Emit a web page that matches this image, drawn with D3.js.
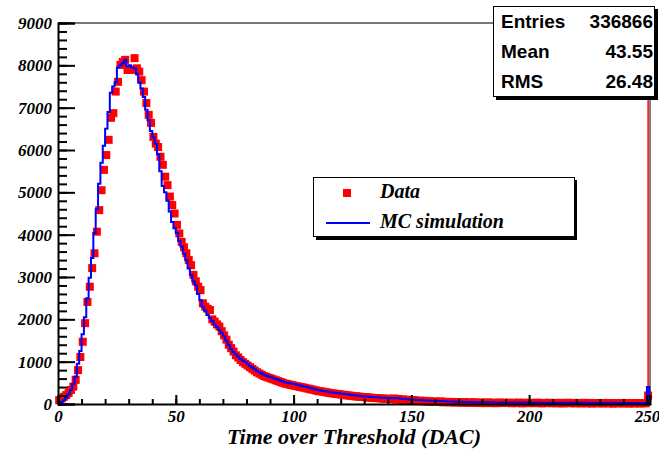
<!DOCTYPE html>
<html>
<head>
<meta charset="utf-8">
<script src="https://cdn.jsdelivr.net/npm/d3@7"></script>
<style>
  body { margin: 0; background: #fff; }
  .tick text { font-family: "Liberation Serif", "Times New Roman", serif; font-weight: bold; font-style: italic; font-size: 17px; fill: #000; }
</style>
</head>
<body>
<div id="chart"></div>
<script>
// histogram bins: 0..250 DAC, width 1
var binCount = 251;

// MC simulation counts per bin (blue step line)
var mcCounts = [
  20,50,90,150,230,330,470,650,950,1250,
  1650,2050,2500,2980,3450,4040,4600,5200,5700,6100,
  6500,6900,7350,7500,7600,7950,8000,8050,8130,7980,
  8000,7950,7930,7800,7600,7450,7250,6950,6700,6450,
  6300,6150,5900,5500,5150,5000,4800,4550,4300,4150,
  4040,3850,3720,3550,3400,3200,3050,2900,2800,2600,
  2450,2300,2200,2100,2030,1960,1880,1820,1750,1680,
  1600,1500,1400,1300,1230,1170,1120,1070,1020,990,
  950,900,860,820,780,750,720,690,670,650,
  630,610,590,570,550,530,515,500,490,480,
  470,455,440,425,415,405,390,375,360,345,
  330,320,310,300,290,280,270,265,258,252,
  245,238,230,222,215,208,200,195,190,183,
  177,170,167,163,160,157,153,150,147,144,
  141,138,136,135,133,125,120,115,110,106,
  102,98,95,92,88,85,82,80,77,75,
  72,70,68,66,64,62,60,58,56,54,
  52,51,49,48,47,45,44,43,42,42,
  41,40,40,39,39,38,38,37,37,36,
  36,36,35,35,35,34,34,34,33,33,
  33,33,32,32,32,32,31,31,31,31,
  31,30,30,30,30,30,30,29,29,29,
  29,29,29,28,28,28,28,28,28,28,
  27,27,27,27,27,27,27,27,27,26,
  26,26,26,26,26,26,26,26,26,26,
  400
];

// measured data counts per bin (red squares)
var dataCounts = [
  90,130,170,210,260,330,410,570,800,1110,
  1470,1910,2410,2770,3210,3560,4070,4580,5050,5530,
  5880,6240,6760,6870,7380,7610,8010,8080,8130,7890,
  7890,7900,8170,7930,7850,7650,7380,7110,6830,6640,
  6310,6150,6070,5840,5650,5370,5170,4900,4700,4500,
  4230,4030,3830,3700,3560,3400,3280,3050,2900,2770,
  2690,2380,2300,2250,2220,2000,1945,1880,1830,1720,
  1620,1520,1400,1320,1240,1150,1100,1040,990,950,
  910,870,830,790,750,720,690,660,640,620,
  600,580,560,540,520,500,480,470,455,445,
  430,420,405,395,385,370,360,345,335,320,
  305,300,290,280,270,260,250,245,235,230,
  220,215,205,200,195,185,180,175,170,165,
  160,155,150,145,140,140,135,130,125,120,
  125,115,130,105,120,98,110,92,100,85,
  95,88,70,80,62,75,58,66,50,60,
  55,48,62,40,52,45,38,50,35,44,
  40,30,45,28,38,25,42,30,22,35,
  30,20,38,25,32,18,28,35,22,30,
  25,32,18,28,20,34,22,15,30,24,
  28,18,25,32,20,15,26,22,30,18,
  24,16,28,20,12,25,30,18,22,15,
  26,20,14,28,18,22,10,25,20,16,
  22,12,26,18,20,8,24,16,20,14,
  18,22,10,20,15,24,12,18,20,16,
  200
];

// last (saturation) bin of the data runs far off scale
var spikeValue = 20000;

var statLabels = ["Entries", "Mean", "RMS"];
var statValues = ["336866", "43.55", "26.48"];

var legendLabels = ["Data", "MC simulation"];

var yMajorTicks = [0,1000,2000,3000,4000,5000,6000,7000,8000,9000];
var xMajorTicks = [0,50,100,150,200,250];

var Width = 659, Height = 450;
var Margin = {top: 23, right: 9, bottom: 46, left: 58};
var serif = '"Liberation Serif", "Times New Roman", serif';
var sans = '"Liberation Sans", Arial, sans-serif';

var svg = d3.select("#chart")
  .append("svg")
  .attr("width", Width)
  .attr("height", Height);

var xScale = d3.scaleLinear()
  .domain([0, 251.3])
  .range([Margin.left, Width - Margin.right]);

var yScale = d3.scaleLinear()
  .domain([0, 9000])
  .range([Height - Margin.bottom, Margin.top]);

svg.append("clipPath").attr("id", "plotclip")
  .append("rect")
  .attr("x", Margin.left).attr("y", Margin.top)
  .attr("width", Width - Margin.left - Margin.right)
  .attr("height", Height - Margin.top - Margin.bottom);

// frame top and right
svg.append("line")
  .attr("x1", Margin.left).attr("x2", Width - Margin.right)
  .attr("y1", Margin.top).attr("y2", Margin.top)
  .style("stroke", "#777").style("stroke-width", 2);
svg.append("line")
  .attr("x1", Width - Margin.right).attr("x2", Width - Margin.right)
  .attr("y1", Margin.top).attr("y2", Height - Margin.bottom)
  .style("stroke", "#000").style("stroke-width", 1);

var bins = d3.range(binCount);

// data: spike line of the last bin
svg.append("line")
  .attr("clip-path", "url(#plotclip)")
  .attr("x1", xScale(binCount - 0.5)).attr("x2", xScale(binCount - 0.5))
  .attr("y1", yScale(dataCounts[binCount - 1])).attr("y2", yScale(spikeValue))
  .style("stroke", "#ff0000").style("stroke-width", 1.5);

// data markers
svg.append("g")
  .selectAll("rect")
  .data(bins)
  .enter()
  .append("rect")
  .attr("x", function(i) { return xScale(i + 0.5) - 4; })
  .attr("y", function(i) { return yScale(dataCounts[i]) - 4; })
  .attr("width", 8)
  .attr("height", 8)
  .style("fill", "#ff0000");

// MC step histogram
var stepPoints = bins.map(function(i) { return [i, mcCounts[i]]; });
stepPoints.push([binCount, mcCounts[binCount - 1]]);
stepPoints.push([binCount, 0]);

svg.append("path")
  .datum(stepPoints)
  .attr("d", d3.line()
    .curve(d3.curveStepAfter)
    .x(function(d) { return xScale(d[0]); })
    .y(function(d) { return yScale(d[1]); }))
  .style("fill", "none")
  .style("stroke", "#0000ff")
  .style("stroke-width", 2);

// y axis: major + minor ticks pointing inside
svg.append("g")
  .attr("transform", "translate(" + Margin.left + ",0)")
  .call(d3.axisLeft(yScale).tickValues(yMajorTicks).tickSize(-17).tickPadding(6).tickFormat(d3.format("d")));
svg.append("g")
  .attr("transform", "translate(" + Margin.left + ",0)")
  .call(d3.axisLeft(yScale).tickValues(d3.range(0, 9001, 200)).tickSize(-9).tickFormat(""))
  .call(function(g) { g.select(".domain").remove(); });

// x axis: major + minor ticks pointing up
var xAxisG = svg.append("g")
  .attr("transform", "translate(0," + (Height - Margin.bottom) + ")")
  .call(d3.axisBottom(xScale).tickValues(xMajorTicks).tickSize(-9).tickPadding(6).tickFormat(d3.format("d")));
svg.append("g")
  .attr("transform", "translate(0," + (Height - Margin.bottom) + ")")
  .call(d3.axisBottom(xScale).tickValues(d3.range(0, 251, 10)).tickSize(-5).tickFormat(""))
  .call(function(g) { g.select(".domain").remove(); });

svg.selectAll(".domain").style("stroke", "#000").style("stroke-width", 2);
svg.selectAll(".tick line").style("stroke", "#000").style("stroke-width", 2);
xAxisG.selectAll(".tick text").attr("dy", "0.68em").attr("y", 6);

// axis title
svg.append("text")
  .attr("x", (Margin.left + Width - Margin.right) / 2)
  .attr("y", 444)
  .attr("text-anchor", "middle")
  .style("font-family", serif)
  .style("font-weight", "bold")
  .style("font-style", "italic")
  .style("font-size", "22px")
  .text("Time over Threshold (DAC)");

// legend
var legend = svg.append("g").attr("transform", "translate(313,177)");
legend.append("rect")
  .attr("x", 3).attr("y", 3).attr("width", 261).attr("height", 60)
  .style("fill", "#000");
legend.append("rect")
  .attr("x", 0.5).attr("y", 0.5).attr("width", 261).attr("height", 59)
  .style("fill", "#fff").style("stroke", "#000").style("stroke-width", 1);
legend.append("rect")
  .attr("x", 30).attr("y", 12).attr("width", 8).attr("height", 8)
  .style("fill", "#ff0000");
legend.append("line")
  .attr("x1", 13).attr("x2", 57).attr("y1", 46).attr("y2", 46)
  .style("stroke", "#0000ff").style("stroke-width", 2);
legend.selectAll("text.lbl")
  .data(legendLabels)
  .enter()
  .append("text")
  .attr("class", "lbl")
  .attr("x", 67)
  .attr("y", function(d, i) { return 21 + i * 30; })
  .style("font-family", serif)
  .style("font-weight", "bold")
  .style("font-style", "italic")
  .style("font-size", "20px")
  .text(function(d) { return d; });

// stats box
var stats = svg.append("g").attr("transform", "translate(493,6)");
stats.append("rect")
  .attr("x", 3).attr("y", 3).attr("width", 162).attr("height", 91)
  .style("fill", "#000");
stats.append("rect")
  .attr("x", 0.5).attr("y", 0.5).attr("width", 161).attr("height", 90)
  .style("fill", "#fff").style("stroke", "#000").style("stroke-width", 1);
stats.selectAll("text.lab")
  .data(statLabels)
  .enter()
  .append("text")
  .attr("class", "lab")
  .attr("x", 8)
  .attr("y", function(d, i) { return 22 + i * 30; })
  .style("font-family", sans)
  .style("font-weight", "bold")
  .style("font-size", "19px")
  .text(function(d) { return d; });
stats.selectAll("text.val")
  .data(statValues)
  .enter()
  .append("text")
  .attr("class", "val")
  .attr("x", 160)
  .attr("y", function(d, i) { return 22 + i * 30; })
  .attr("text-anchor", "end")
  .style("font-family", sans)
  .style("font-weight", "bold")
  .style("font-size", "19px")
  .text(function(d) { return d; });
</script>
</body>
</html>
